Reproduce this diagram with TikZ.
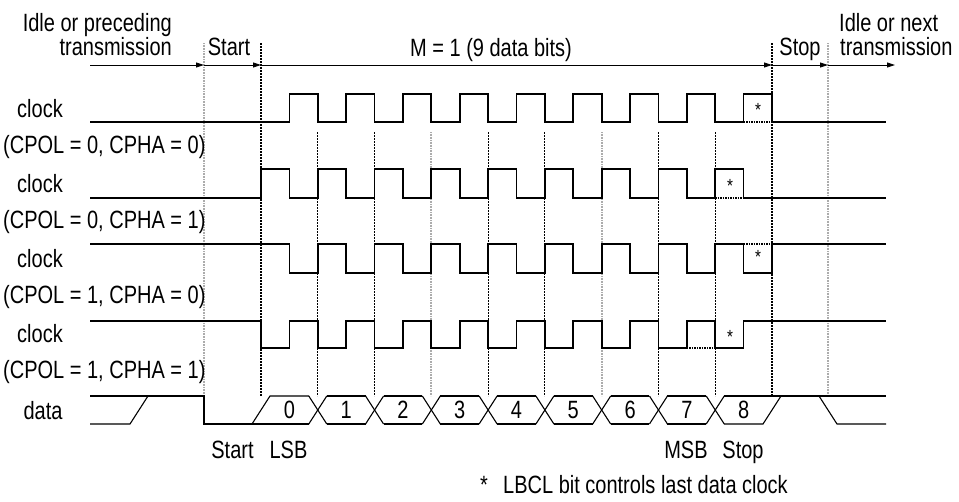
\documentclass[tikz,border=0pt]{standalone}
\usepackage{fontspec}
\setmainfont[FakeStretch=0.80]{Liberation Sans}
\usetikzlibrary{arrows.meta}
\begin{document}
\begin{tikzpicture}[x=1pt,y=-1pt,
  every node/.style={inner sep=0pt,font=\fontsize{25}{25}\selectfont},
  sig/.style={line width=1.7pt},
  dat/.style={line width=1.1pt},
  opt/.style={line width=1.2pt,dash pattern=on 1.5pt off 1pt},
  dline/.style={line width=1.1pt,dash pattern=on 2pt off 1pt},
  gline/.style={line width=1.8pt,gray!65,dash pattern=on 1pt off 0.6pt},
  arr/.style={line width=0.9pt,-{Triangle[length=8pt,width=5pt]}},
  starlbl/.style={font=\fontsize{19}{19}\selectfont,anchor=base},
]
\useasboundingbox (0,0) rectangle (959,501);
\def\bw{56.78}
\def\hb{28.39}

% ---------- vertical boundaries ----------
\draw[gline] (204,43) -- (204,396);
\draw[dline] (261,43) -- (261,396);
\foreach \k in {1,2,4,5,7,8} \draw[dline] ({261+\k*\bw},132) -- ({261+\k*\bw},396);
\foreach \k in {3,6} \draw[gline] ({261+\k*\bw},132) -- ({261+\k*\bw},396);
\draw[dline] (772,43) -- (772,396);
\draw[gline] (828,43) -- (828,396);

% ---------- top arrow line ----------
\coordinate (a0) at (90,65);
\coordinate (a1) at (204,65);
\coordinate (a2) at (261,65);
\coordinate (a3) at (772,65);
\coordinate (a4) at (828,65);
\coordinate (a5) at (895,65);
\draw[arr] (a0) -- (a1);
\draw[arr] (a1) -- (a2);
\draw[arr] (a2) -- (a3);
\draw[arr] (a3) -- (a4);
\draw[arr] (a4) -- (a5);

% ---------- header labels ----------
\node[anchor=base east] (idle1) at (172,31.5) {Idle or preceding};
\node[anchor=base east] (idle2) at (172,55) {transmission};
\node[anchor=base] (hstart) at (229,55) {Start};
\node[anchor=base] (hm) at (491,56.5) {M = 1 (9 data bits)};
\node[anchor=base] (hstop) at (800,55) {Stop};
\node[anchor=base west] (next1) at (839,31.5) {Idle or next};
\node[anchor=base west] (next2) at (840,55) {transmission};

% ---------- row labels ----------
\foreach \i/\p/\q in {0/0/0,1/0/1,2/1/0,3/1/1}{
  \node[anchor=base] (clk\i) at (40,{117+75*\i}) {clock};
  \node[anchor=base west] (mode\i) at (3,{153+75*\i}) {(CPOL = \p, CPHA = \q)};
}
\node[anchor=base] (datalbl) at (43,419) {data};

% ---------- clock rows ----------
% CPOL=0, CPHA=0
\draw[sig] (90,122) -- (289.39,122)
  foreach \k in {0,...,7} { -- ++(0,-28) -- ++(\hb,0) -- ++(0,28) -- ++(\hb,0) }
  -- ++(0,-28) -- ++(\hb,0) -- ++(0,28) -- (886,122);
\draw[opt] (743.63,122) -- (772.02,122);
\node[starlbl] (s1) at (758,116) {*};
% CPOL=0, CPHA=1
\draw[sig] (90,198) -- (261,198)
  foreach \k in {0,...,7} { -- ++(0,-29) -- ++(\hb,0) -- ++(0,29) -- ++(\hb,0) }
  -- ++(0,-29) -- ++(\hb,0) -- ++(0,29) -- (886,198);
\draw[opt] (715.24,198) -- (743.63,198);
\node[starlbl] (s2) at (730,192) {*};
% CPOL=1, CPHA=0
\draw[sig] (90,244) -- (289.39,244)
  foreach \k in {0,...,7} { -- ++(0,29) -- ++(\hb,0) -- ++(0,-29) -- ++(\hb,0) }
  -- ++(0,29) -- ++(\hb,0) -- ++(0,-29) -- (886,244);
\draw[opt] (743.63,244) -- (772.02,244);
\node[starlbl] (s3) at (758,263) {*};
% CPOL=1, CPHA=1
\draw[sig] (90,321) -- (261,321)
  foreach \k in {0,...,7} { -- ++(0,27) -- ++(\hb,0) -- ++(0,-27) -- ++(\hb,0) }
  -- ++(0,27) -- ++(\hb,0) -- ++(0,-27) -- (886,321);
\draw[opt] (686.85,348) -- (715.24,348);
\node[starlbl] (s4) at (730,343) {*};

% ---------- data row ----------
\draw[dat] (90,424) -- (130,424) -- (148,396);
\draw[dat] (90,396) -- (204,396) -- (204,424) -- (308.78,424);
\draw[dat] (252,424) -- (270,396) -- (308.78,396);
\foreach \k in {1,...,8}{
  \draw[dat] ({261+\k*\bw-9},396) -- ({261+\k*\bw+9},424);
  \draw[dat] ({261+\k*\bw-9},424) -- ({261+\k*\bw+9},396);
}
\foreach \k in {1,...,7}{
  \draw[dat] ({261+\k*\bw+9},396) -- ({261+(\k+1)*\bw-9},396);
  \draw[dat] ({261+\k*\bw+9},424) -- ({261+(\k+1)*\bw-9},424);
}
\draw[dat] (724.24,396) -- (886,396);
\draw[dat] (724.24,424) -- (763,424) -- (781,396);
\draw[dat] (819,396) -- (837,424) -- (886,424);
\foreach \k in {0,...,8}
  \node[anchor=base] (bit\k) at ({261+\k*\bw+\hb},418.5) {\k};

% ---------- bottom labels ----------
\node[anchor=base] (bstart) at (232.5,458) {Start};
\node[anchor=base] (blsb) at (288.5,458) {LSB};
\node[anchor=base] (bmsb) at (686,458) {MSB};
\node[anchor=base] (bstop) at (743,458) {Stop};
\node[anchor=base] (fstar) at (484,493) {*};
\node[anchor=base west] (fnote) at (503,493) {LBCL bit controls last data clock};
\end{tikzpicture}
\end{document}
